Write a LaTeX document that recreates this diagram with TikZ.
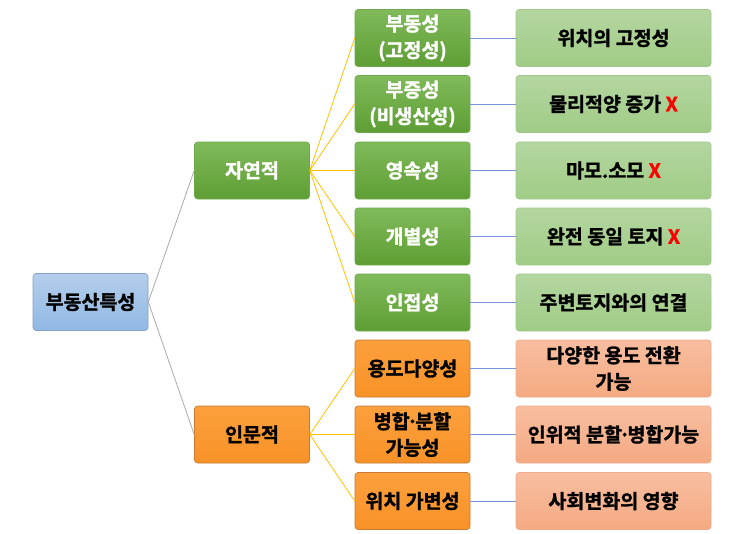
\documentclass[tikz,border=0pt]{standalone}
\usepackage{fontspec}
\newfontfamily\kr[FakeBold=1.5]{Noto Sans CJK KR Bold}
\begin{document}
\begin{tikzpicture}[x=1pt,y=-1pt,
 box/.style={rounded corners=3pt,minimum height=57pt,align=center,font=\kr\fontsize{19.5}{26.5}\selectfont,inner sep=1pt,line width=0.6pt},
 root/.style={box,minimum width=115pt,top color={rgb,255:red,180;green,205;blue,235},bottom color={rgb,255:red,145;green,185;blue,228},draw={rgb,255:red,130;green,160;blue,200}},
 g/.style={box,minimum width=115pt,top color={rgb,255:red,128;green,186;blue,90},bottom color={rgb,255:red,94;green,158;blue,52},draw={rgb,255:red,110;green,170;blue,75},text=white},
 o/.style={box,minimum width=115pt,top color={rgb,255:red,252;green,160;blue,60},bottom color={rgb,255:red,248;green,146;blue,40},draw={rgb,255:red,200;green,120;blue,50}},
 lg/.style={box,minimum width=195pt,top color={rgb,255:red,180;green,214;blue,160},bottom color={rgb,255:red,160;green,204;blue,134},draw={rgb,255:red,160;green,200;blue,140}},
 lo/.style={box,minimum width=195pt,top color={rgb,255:red,248;green,190;blue,160},bottom color={rgb,255:red,244;green,170;blue,130},draw={rgb,255:red,240;green,170;blue,140}},
 gl/.style={draw={rgb,255:red,170;green,170;blue,170},line width=0.8pt},
 yl/.style={draw={rgb,255:red,255;green,192;blue,0},line width=0.8pt},
 bl/.style={draw={rgb,255:red,120;green,150;blue,220},line width=1pt}]
\useasboundingbox (0,0) rectangle (743,533);
\def\X{\textcolor{red}{X}}
\def\D{\kern-3pt·\kern-3pt}
\node[root] (r) at (90.5,302) {부동산특성};
\node[g] (n) at (252,170.5) {자연적};
\node[o] (h) at (252,434.5) {인문적};
\node[g] (a1) at (412.5,38) {부동성\\(고정성)};
\node[g] (a2) at (412.5,104) {부증성\\(비생산성)};
\node[g] (a3) at (412.5,170.5) {영속성};
\node[g] (a4) at (412.5,236.5) {개별성};
\node[g] (a5) at (412.5,302.5) {인접성};
\node[o] (b1) at (412.5,368.5) {용도다양성};
\node[o] (b2) at (412.5,434.5) {병합\D 분할\\가능성};
\node[o] (b3) at (412.5,501) {위치 가변성};
\node[lg] (c1) at (613.5,38) {위치의 고정성};
\node[lg] (c2) at (613.5,104) {물리적양 증가 \X};
\node[lg] (c3) at (613.5,170.5) {마모.소모 \X};
\node[lg] (c4) at (613.5,236.5) {완전 동일 토지 \X};
\node[lg] (c5) at (613.5,302.5) {주변토지와의 연결};
\node[lo] (d1) at (613.5,368.5) {다양한 용도 전환\\가능};
\node[lo] (d2) at (613.5,434.5) {인위적 분할\D 병합가능};
\node[lo] (d3) at (613.5,501) {사회변화의 영향};
\draw[gl] (r.east) -- (n.west);
\draw[gl] (r.east) -- (h.west);
\foreach \i in {1,...,5}{\draw[yl] (n.east) -- (a\i.west); \draw[bl] (a\i.east) -- (c\i.west);}
\foreach \i in {1,2,3}{\draw[yl] (h.east) -- (b\i.west); \draw[bl] (b\i.east) -- (d\i.west);}
\end{tikzpicture}
\end{document}
